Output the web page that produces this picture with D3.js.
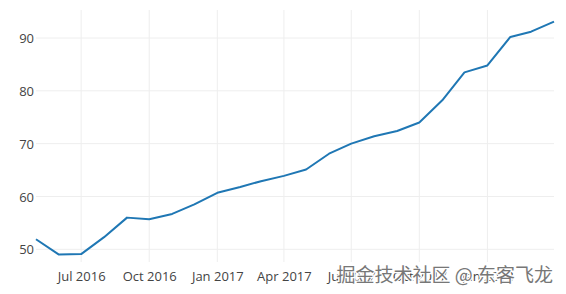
<!DOCTYPE html>
<html>
<head>
<meta charset="utf-8">
<script src="https://cdn.jsdelivr.net/npm/d3@7"></script>
<style>
  body { margin: 0; background: #fff; }
  svg { display: block; }
  .tick text { font-family: "Open Sans", sans-serif; font-size: 13px; fill: #444; }
</style>
</head>
<body>
<div id="chart"></div>
<script>
// monthly values
const months = ['2016-05-01','2016-06-01','2016-07-01','2016-08-01','2016-09-01','2016-10-01',
    '2016-11-01','2016-12-01','2017-01-01','2017-02-01','2017-03-01','2017-04-01',
    '2017-05-01','2017-06-01','2017-07-01','2017-08-01','2017-09-01','2017-10-01',
    '2017-11-01','2017-12-01','2018-01-01','2018-02-01','2018-03-01','2018-04-01'];
const values = [51.9, 49.0, 49.1, 52.3, 56.0, 55.7,
    56.7, 58.5, 60.7, 61.8, 62.9, 63.9,
    65.1, 68.1, 70.0, 71.4, 72.4, 74.0,
    78.2, 83.5, 84.8, 90.2, 91.2, 93.1];
const xTicks = ['2016-07-01','2016-10-01','2017-01-01','2017-04-01','2017-07-01','2017-10-01','2018-01-01'];
const yTicks = [50, 60, 70, 80, 90];
const watermark = '掘金技术社区 @ 东客飞龙';

const parse = d3.timeParse('%Y-%m-%d');
const data = months.map((m, i) => ({date: parse(m), value: values[i]}));

const W = 566, H = 294;
const plot = {left: 36, right: 554, top: 10, bottom: 262};

const svg = d3.select('#chart').append('svg')
    .attr('width', W)
    .attr('height', H);

const x = d3.scaleTime()
    .domain([parse('2016-05-01'), parse('2018-04-01')])
    .range([plot.left, plot.right]);
const y = d3.scaleLinear()
    .domain([47.6, 95.3])
    .range([plot.bottom, plot.top]);

// gridlines
svg.append('g')
    .selectAll('line')
    .data(xTicks.map(parse))
    .enter().append('line')
    .attr('x1', d => x(d)).attr('x2', d => x(d))
    .attr('y1', plot.top).attr('y2', plot.bottom)
    .attr('stroke', '#eee').attr('stroke-width', 1);

svg.append('g')
    .selectAll('line')
    .data(yTicks)
    .enter().append('line')
    .attr('x1', plot.left).attr('x2', plot.right)
    .attr('y1', d => y(d)).attr('y2', d => y(d))
    .attr('stroke', '#eee').attr('stroke-width', 1);

// axes, labels only
const xAxis = d3.axisBottom(x)
    .tickValues(xTicks.map(parse))
    .tickFormat(d3.timeFormat('%b %Y'))
    .tickSize(0).tickPadding(0);
const gx = svg.append('g')
    .attr('transform', 'translate(0,' + plot.bottom + ')')
    .call(xAxis);
gx.select('.domain').remove();
gx.selectAll('text').attr('dy', null).attr('y', 19);

const yAxis = d3.axisLeft(y)
    .tickValues(yTicks)
    .tickSize(0).tickPadding(0);
const gy = svg.append('g')
    .attr('transform', 'translate(' + (plot.left - 2) + ',0)')
    .call(yAxis);
gy.select('.domain').remove();
gy.selectAll('text').attr('dy', '0.35em');

// the line
svg.append('path')
    .datum(data)
    .attr('fill', 'none')
    .attr('stroke', '#1f77b4')
    .attr('stroke-width', 2)
    .attr('stroke-linejoin', 'round')
    .attr('d', d3.line()
        .x(d => x(d.date))
        .y(d => y(d.value)));

// watermark
svg.append('text')
    .attr('x', 553)
    .attr('y', 282)
    .attr('text-anchor', 'end')
    .attr('font-family', '"Noto Sans CJK SC", sans-serif')
    .attr('font-size', 19)
    .attr('fill', '#777')
    .attr('stroke', '#fff')
    .attr('stroke-width', 2.5)
    .attr('paint-order', 'stroke')
    .text(watermark);
</script>
</body>
</html>
